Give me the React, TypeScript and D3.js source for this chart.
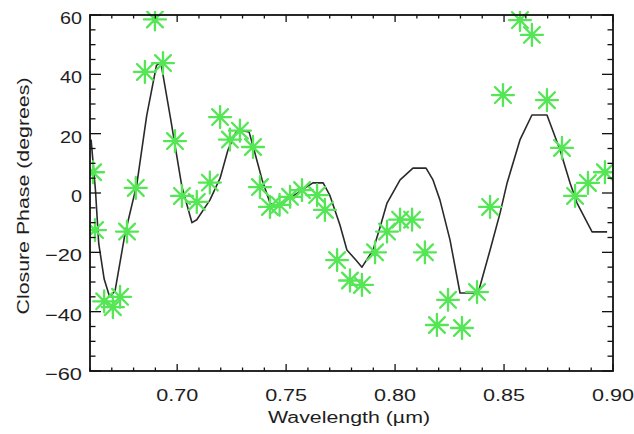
import React from "react";
import * as d3 from "d3";

// Observed closure phases (green asterisks)
const obsWavelength = [
  0.6614, 0.6623, 0.6665, 0.6705, 0.6738, 0.677, 0.681, 0.6852, 0.6898, 0.6935,
  0.699, 0.7022, 0.709, 0.715, 0.7197, 0.7242, 0.7288, 0.7348, 0.738, 0.7426,
  0.747, 0.7518, 0.7573, 0.7642, 0.7678, 0.7734, 0.7793, 0.7848, 0.7908, 0.7963,
  0.8023, 0.8078, 0.8137, 0.8192, 0.8243, 0.8307, 0.8376, 0.8436, 0.8495, 0.8573,
  0.8628, 0.8697, 0.8766, 0.8826, 0.8885, 0.8963,
];
const obsPhase = [
  7, -12.5, -36.5, -38.5, -35, -13, 1.7, 40.8, 58.5, 43.8,
  17.5, -1, -3, 3.5, 25.6, 18, 21, 15.5, 2, -4.7,
  -4, -1.3, 1, -0.7, -5.7, -22.6, -29.5, -31, -20, -13,
  -9, -9, -20, -44.5, -36, -45.5, -33.4, -4.7, 33, 58.3,
  53.3, 31.3, 15.2, -1, 3.4, 7,
];

// Model curve (black line)
const modelWavelength = [
  0.6605, 0.6625, 0.664, 0.6665, 0.669, 0.6715, 0.676, 0.6815, 0.686, 0.6905,
  0.6925, 0.697, 0.7022, 0.7068, 0.709, 0.715, 0.7197, 0.7233, 0.727, 0.7288,
  0.733, 0.7353, 0.739, 0.7426, 0.745, 0.7518, 0.7587, 0.7623, 0.767, 0.77,
  0.7747, 0.7779, 0.782, 0.7848, 0.7899, 0.793, 0.7963, 0.8023, 0.8082, 0.8142,
  0.8174, 0.8206, 0.8252, 0.8298, 0.8381, 0.8436, 0.8482, 0.8514, 0.8573, 0.8628,
  0.8697, 0.8757, 0.8803, 0.8835, 0.8904, 0.8973,
];
const modelPhase = [
  18, 1, -17, -29, -35, -33, -14, 3, 26, 43,
  44, 25, 2, -10, -9, -2.4, 5, 14.5, 20.6, 21.2,
  20.6, 14.5, 4.4, -3.4, -4.4, -1.7, 1.7, 3.4, 3.4, -0.7,
  -10.8, -19.2, -22.6, -25, -19.2, -11.8, -3.4, 4.4, 8.4, 8.4,
  4.4, -2.4, -15.8, -33.7, -33.7, -19.2, -6.7, 3.4, 17.9, 26.3,
  26.3, 14.5, 3.4, -3.4, -13.1, -13.1,
];

const xMajorTicks = [0.7, 0.75, 0.8, 0.85, 0.9];
const xTickLabels = ["0.70", "0.75", "0.80", "0.85", "0.90"];
const yMajorTicks = [-60, -40, -20, 0, 20, 40, 60];
const yTickLabels = ["\u221260", "\u221240", "\u221220", "0", "20", "40", "60"];

const W = 634;
const H = 434;
const L = 90, R = 613, T = 15, B = 371;

export default function App() {
  const x = d3.scaleLinear().domain([0.66, 0.9]).range([L, R]);
  const y = d3.scaleLinear().domain([-60, 60]).range([B, T]);

  const xMinor = d3.range(66, 91).map((v) => v / 100);
  const yMinor = d3.range(-60, 61, 5);

  const line = d3
    .line<number>()
    .x((_, i) => x(modelWavelength[i]))
    .y((d) => y(d));
  const modelPath = line(modelPhase) || "";

  const r = 11;
  const d2 = r * 0.72;
  const star = `M${-r},0L${r},0M0,${-r}L0,${r}M${-d2},${-d2}L${d2},${d2}M${-d2},${d2}L${d2},${-d2}`;

  const font = "'Liberation Sans', Arial, sans-serif";
  const tc = "#1e1e1e";

  const yLabelWidth = (s: string) => (s.length === 1 ? 11 : s.length === 2 ? 22 : 37);

  return (
    <svg
      width={W}
      height={H}
      style={{ position: "absolute", left: 0, top: 0, background: "#fff" }}
    >
      <rect x={0} y={0} width={W} height={H} fill="#fff" />
      <defs>
        <clipPath id="plotclip">
          <rect x={L} y={T - 4} width={R - L} height={B - T + 8} />
        </clipPath>
      </defs>

      {/* model curve */}
      <path
        d={modelPath}
        fill="none"
        stroke="#2a2a2a"
        strokeWidth={1.6}
        strokeLinejoin="round"
        clipPath="url(#plotclip)"
      />

      {/* observed asterisks */}
      <g clipPath="url(#plotclip)">
        {obsPhase.map((p, i) => (
          <path
            key={i}
            d={star}
            transform={`translate(${x(obsWavelength[i])},${y(p)})`}
            fill="none"
            stroke="#55e655"
            strokeWidth={2.3}
            strokeLinecap="round"
          />
        ))}
      </g>

      {/* frame */}
      <rect x={L} y={T} width={R - L} height={B - T} fill="none" stroke="#111" strokeWidth={1.8} />

      {/* x ticks */}
      {xMinor.map((v, i) => {
        const major = xMajorTicks.some((m) => Math.abs(m - v) < 1e-6);
        const len = major ? 7 : 3.5;
        return (
          <g key={"xt" + i} stroke="#111" strokeWidth={1.3}>
            <line x1={x(v)} x2={x(v)} y1={B} y2={B - len} />
            <line x1={x(v)} x2={x(v)} y1={T} y2={T + len} />
          </g>
        );
      })}

      {/* y ticks */}
      {yMinor.map((v, i) => {
        const major = v % 20 === 0;
        const len = major ? 11 : 5.5;
        return (
          <g key={"yt" + i} stroke="#111" strokeWidth={1.3}>
            <line x1={L} x2={L + len} y1={y(v)} y2={y(v)} />
            <line x1={R} x2={R - len} y1={y(v)} y2={y(v)} />
          </g>
        );
      })}

      {/* x tick labels */}
      {xMajorTicks.map((v, i) => (
        <text
          key={"xl" + i}
          x={x(v)}
          y={401}
          textAnchor="middle"
          fontFamily={font}
          fontSize={17}
          fill={tc}
          textLength={42}
          lengthAdjust="spacingAndGlyphs"
        >
          {xTickLabels[i]}
        </text>
      ))}

      {/* y tick labels */}
      {yMajorTicks.map((v, i) => (
        <text
          key={"yl" + i}
          x={82 - yLabelWidth(yTickLabels[i])}
          y={y(v) + 9}
          fontFamily={font}
          fontSize={17}
          fill={tc}
          textLength={yLabelWidth(yTickLabels[i])}
          lengthAdjust="spacingAndGlyphs"
        >
          {yTickLabels[i]}
        </text>
      ))}

      {/* axis titles */}
      <text
        x={349}
        y={423}
        textAnchor="middle"
        fontFamily={font}
        fontSize={16}
        fill={tc}
        textLength={162}
        lengthAdjust="spacingAndGlyphs"
      >
        Wavelength (µm)
      </text>
      <text
        transform="translate(29,196) rotate(-90)"
        textAnchor="middle"
        fontFamily={font}
        fontSize={16}
        fill={tc}
        textLength={237}
        lengthAdjust="spacingAndGlyphs"
      >
        Closure Phase (degrees)
      </text>
    </svg>
  );
}
